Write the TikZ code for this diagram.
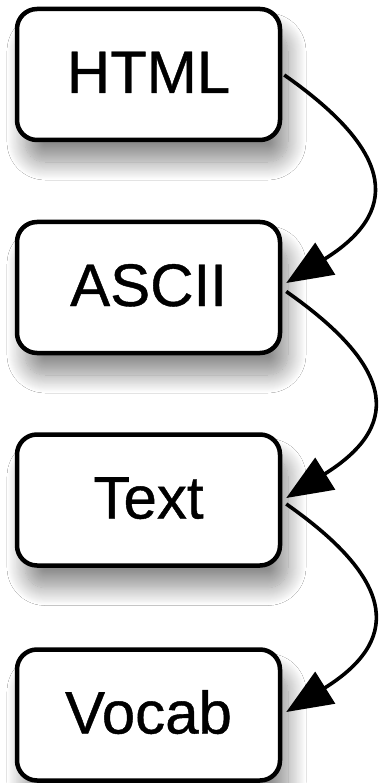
\documentclass[tikz,border=0pt]{standalone}
\usepackage{fontspec}
\setmainfont{Liberation Sans}
\newfontfamily\boxfont[RawFeature={embolden=0.7}]{Liberation Sans}
\usetikzlibrary{arrows.meta,calc,shadows.blur}
\begin{document}
\begin{tikzpicture}[x=1pt,y=1pt,
  boxnode/.style={draw=black, line width=4.5pt, rounded corners=20pt, fill=white,
    minimum width=263pt, minimum height=131pt, inner sep=0pt,
    font=\boxfont\fontsize{60}{72}\selectfont, text height=43pt, text depth=6pt,
    blur shadow={shadow xshift=8pt, shadow yshift=-22pt, shadow blur radius=18pt, shadow opacity=45, shadow blur steps=20}},
  conn/.style={line width=3.6pt, -{Triangle[length=46pt,width=37pt]},
    to path={.. controls +(-35:139pt) and +(32:132pt) .. (\tikztotarget)}}]
\useasboundingbox (0,0) rectangle (380,-783);
\fill[white] (0,0) rectangle (380,-783);
\node[boxnode] (html) at (148.5,-74.5) {HTML};
\node[boxnode] (ascii) at (148.5,-287.5) {ASCII};
\node[boxnode] (text) at (148.5,-500) {Text};
\node[boxnode] (vocab) at (148.5,-715) {Vocab};
\draw[conn] ($(html.east)+(2,-0.5)$) to ($(ascii.east)+(4,4.5)$);
\draw[conn] ($(ascii.east)+(4,-4)$) to ($(text.east)+(4,2)$);
\draw[conn] ($(text.east)+(4,-4)$) to ($(vocab.east)+(4,3)$);
\end{tikzpicture}
\end{document}
